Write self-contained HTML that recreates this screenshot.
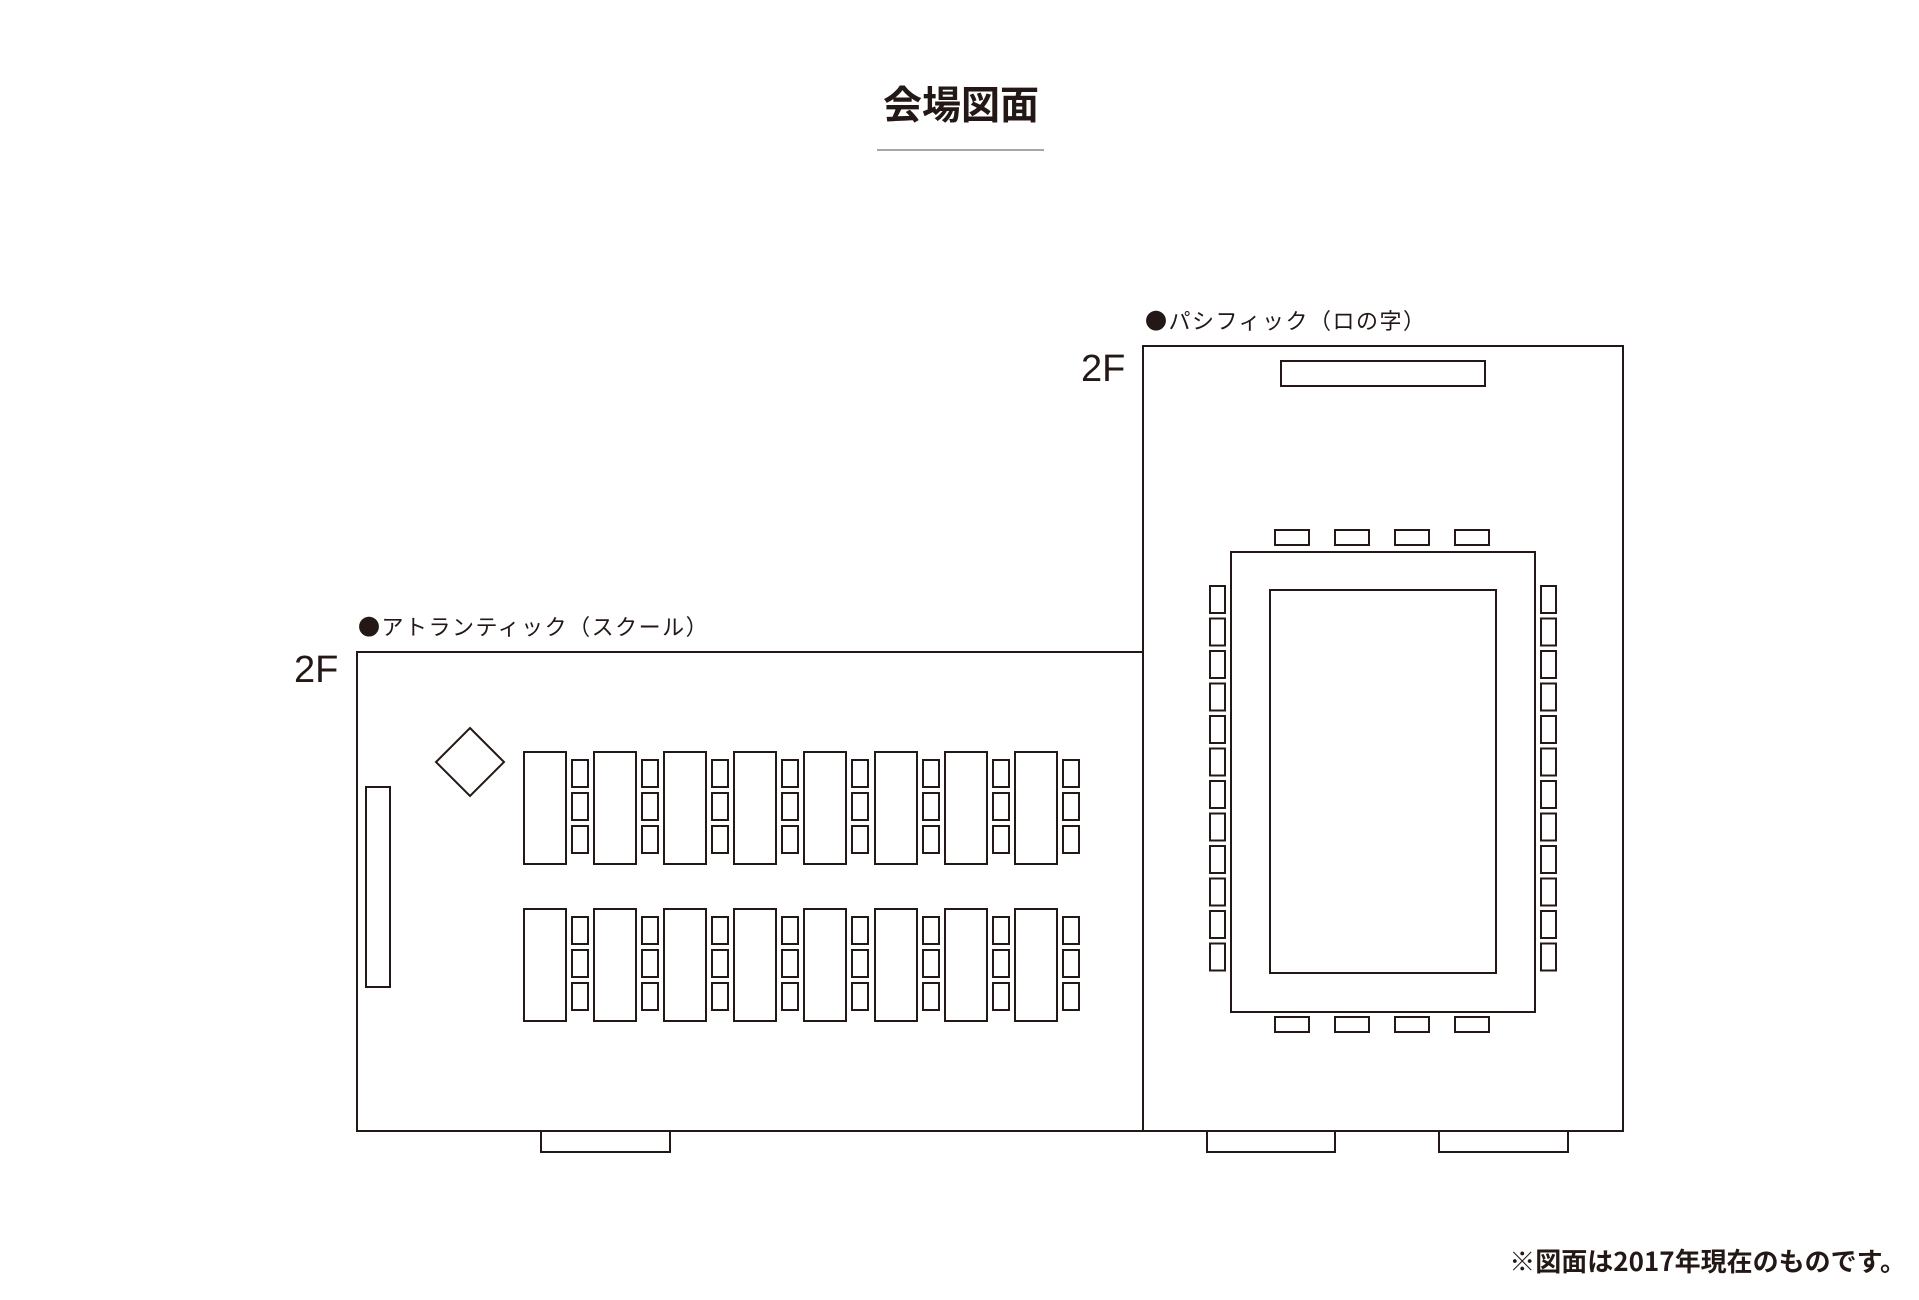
<!DOCTYPE html>
<html><head><meta charset="utf-8"><style>
html,body{margin:0;padding:0;background:#fff;width:1919px;height:1300px;overflow:hidden}
svg{display:block}
text{font-family:"Liberation Sans","Noto Sans CJK JP",sans-serif;fill:#231815}
.lb{font-family:"Noto Sans CJK JP",sans-serif}
</style></head><body>
<svg width="1919" height="1300" viewBox="0 0 1919 1300" xmlns="http://www.w3.org/2000/svg">
<text x="961" y="119" font-size="39" font-weight="bold" text-anchor="middle" class="lb">会場図面</text>
<line x1="877" y1="150" x2="1044" y2="150" stroke="#888" stroke-width="1.5"/>
<g fill="none" stroke="#231815" stroke-width="2">
<rect x="357" y="652" width="786" height="479"/>
<rect x="1143" y="346" width="480" height="785"/>
<rect x="366" y="787" width="24" height="200"/>
<polygon points="470,728 504,762 470,796 436,762"/>
<g id="row1">
<rect x="524" y="752" width="42" height="112"/><rect x="572" y="760" width="16" height="27"/><rect x="572" y="793" width="16" height="27"/><rect x="572" y="826" width="16" height="27"/>
<rect x="594" y="752" width="42" height="112"/><rect x="642" y="760" width="16" height="27"/><rect x="642" y="793" width="16" height="27"/><rect x="642" y="826" width="16" height="27"/>
<rect x="664" y="752" width="42" height="112"/><rect x="712" y="760" width="16" height="27"/><rect x="712" y="793" width="16" height="27"/><rect x="712" y="826" width="16" height="27"/>
<rect x="734" y="752" width="42" height="112"/><rect x="782" y="760" width="16" height="27"/><rect x="782" y="793" width="16" height="27"/><rect x="782" y="826" width="16" height="27"/>
<rect x="804" y="752" width="42" height="112"/><rect x="852" y="760" width="16" height="27"/><rect x="852" y="793" width="16" height="27"/><rect x="852" y="826" width="16" height="27"/>
<rect x="875" y="752" width="42" height="112"/><rect x="923" y="760" width="16" height="27"/><rect x="923" y="793" width="16" height="27"/><rect x="923" y="826" width="16" height="27"/>
<rect x="945" y="752" width="42" height="112"/><rect x="993" y="760" width="16" height="27"/><rect x="993" y="793" width="16" height="27"/><rect x="993" y="826" width="16" height="27"/>
<rect x="1015" y="752" width="42" height="112"/><rect x="1063" y="760" width="16" height="27"/><rect x="1063" y="793" width="16" height="27"/><rect x="1063" y="826" width="16" height="27"/>
</g>
<use href="#row1" transform="translate(0,157)"/>
<rect x="541" y="1131" width="129" height="21"/>
<rect x="1281" y="361" width="204" height="25"/>
<rect x="1231" y="552" width="304" height="460"/>
<rect x="1270" y="590" width="226" height="383"/>
<rect x="1275" y="530" width="34" height="15"/><rect x="1335" y="530" width="34" height="15"/><rect x="1395" y="530" width="34" height="15"/><rect x="1455" y="530" width="34" height="15"/>
<rect x="1275" y="1017" width="34" height="15"/><rect x="1335" y="1017" width="34" height="15"/><rect x="1395" y="1017" width="34" height="15"/><rect x="1455" y="1017" width="34" height="15"/>
<g id="lc">
<rect x="1210" y="586" width="15" height="27"/><rect x="1210" y="618.5" width="15" height="27"/><rect x="1210" y="651" width="15" height="27"/><rect x="1210" y="683.5" width="15" height="27"/>
<rect x="1210" y="716" width="15" height="27"/><rect x="1210" y="748.5" width="15" height="27"/><rect x="1210" y="781" width="15" height="27"/><rect x="1210" y="813.5" width="15" height="27"/>
<rect x="1210" y="846" width="15" height="27"/><rect x="1210" y="878.5" width="15" height="27"/><rect x="1210" y="911" width="15" height="27"/><rect x="1210" y="943.5" width="15" height="27"/>
</g>
<use href="#lc" transform="translate(331,0)"/>
<rect x="1207" y="1131" width="128" height="21"/>
<rect x="1439" y="1131" width="129" height="21"/>
</g>
<text x="358" y="635" font-size="22" letter-spacing="1.5" class="lb">●アトランティック（スクール）</text>
<text x="294" y="682" font-size="38">2F</text>
<text x="1145" y="329" font-size="22" letter-spacing="1.5" class="lb">●パシフィック（ロの字）</text>
<text x="1081" y="381" font-size="38">2F</text>
<text x="1906" y="1271" font-size="26" font-weight="bold" text-anchor="end" class="lb">※図面は2017年現在のものです。</text>
</svg>
</body></html>
